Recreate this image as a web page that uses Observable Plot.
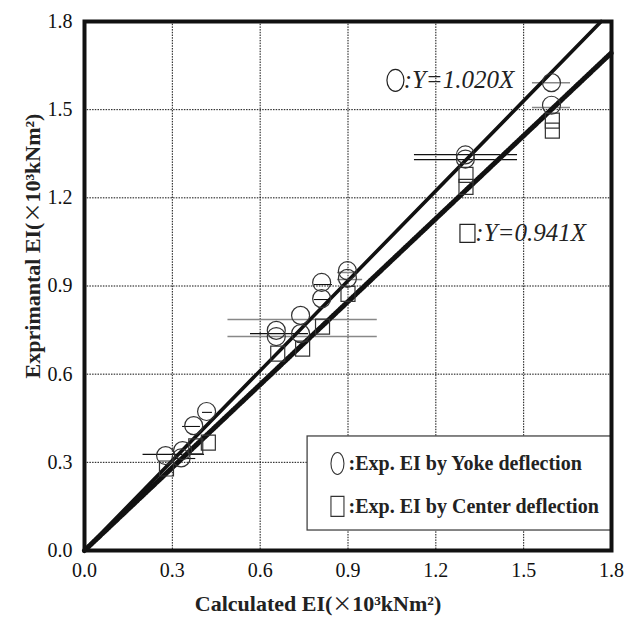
<!DOCTYPE html>
<html>
<head>
<meta charset="utf-8">
<script src="https://cdn.jsdelivr.net/npm/d3@7"></script>
<script src="https://cdn.jsdelivr.net/npm/@observablehq/plot@0.6"></script>
<style>
  html, body { margin: 0; padding: 0; background: #fff; }
</style>
</head>
<body>
<div id="chart"></div>
<script>
// ---- data ----
const xTicks = [0.0, 0.3, 0.6, 0.9, 1.2, 1.5, 1.8];
const yTicks = [0.0, 0.3, 0.6, 0.9, 1.2, 1.5, 1.8];
const gridValues = [0.3, 0.6, 0.9, 1.2, 1.5];

// Exp. EI by Yoke deflection (circles)
const yokeX = [0.277, 0.33, 0.335, 0.373, 0.417, 0.655, 0.655, 0.738, 0.738, 0.81, 0.81, 0.898, 0.898, 1.301, 1.301, 1.595, 1.595];
const yokeY = [0.323, 0.315, 0.34, 0.425, 0.473, 0.749, 0.728, 0.80, 0.738, 0.912, 0.857, 0.952, 0.926, 1.346, 1.332, 1.592, 1.515];

// Exp. EI by Center deflection (squares)
const centerX = [0.28, 0.38, 0.423, 0.66, 0.745, 0.813, 0.9, 1.303, 1.303, 1.598, 1.598];
const centerY = [0.279, 0.354, 0.367, 0.67, 0.687, 0.762, 0.873, 1.278, 1.237, 1.463, 1.429];

// horizontal error bars (gray ones and black ones)
const grayBarY  = [1.592, 1.507, 0.786, 0.728, 0.946, 0.922];
const grayBarX1 = [1.53, 1.53, 0.49, 0.49, 0.864, 0.864];
const grayBarX2 = [1.66, 1.66, 1.0, 1.0, 0.932, 0.95];
const blackBarY  = [1.347, 1.330, 0.738, 0.905, 0.854, 0.47, 0.422, 0.327, 0.313];
const blackBarX1 = [1.127, 1.127, 0.567, 0.785, 0.785, 0.403, 0.335, 0.20, 0.30];
const blackBarX2 = [1.479, 1.479, 0.765, 0.847, 0.84, 0.437, 0.396, 0.41, 0.38];

// regression slopes
const yokeSlope = 1.020;
const centerSlope = 0.941;
const annotationTexts = [":Y=1.020X", ":Y=0.941X"];
const legendTexts = [":Exp. EI by Yoke deflection", ":Exp. EI by Center deflection"];

// ---- derived tables ----
const yoke = yokeX.map((x, i) => ({x, y: yokeY[i]}));
const center = centerX.map((x, i) => ({x, y: centerY[i]}));
const grayBars = grayBarY.map((y, i) => ({y, x1: grayBarX1[i], x2: grayBarX2[i]}));
const blackBars = blackBarY.map((y, i) => ({y, x1: blackBarX1[i], x2: blackBarX2[i]}));
const fitLine = s => [{x: 0, y: 0}, {x: Math.min(1.8, 1.8 / s), y: Math.min(1.8, 1.8 / s) * s}];

const ellipseSym = (rx, ry) => ({
  draw(ctx) {
    const k = 0.5523;
    ctx.moveTo(rx, 0);
    ctx.bezierCurveTo(rx, ry * k, rx * k, ry, 0, ry);
    ctx.bezierCurveTo(-rx * k, ry, -rx, ry * k, -rx, 0);
    ctx.bezierCurveTo(-rx, -ry * k, -rx * k, -ry, 0, -ry);
    ctx.bezierCurveTo(rx * k, -ry, rx, -ry * k, rx, 0);
    ctx.closePath();
  }
});
const rectSym = (w, h) => ({ draw(ctx) { ctx.rect(-w / 2, -h / 2, w, h); } });

const serif = "'Liberation Serif', 'Times New Roman', serif";

// annotation / legend placement (data units)
const annot = [
  {sx: 1.062, tx: 1.09, y: 1.60, text: annotationTexts[0], sym: "e"},
  {sx: 1.308, tx: 1.335, y: 1.079, text: annotationTexts[1], sym: "r"}
];
const legendRows = [
  {sx: 0.864, tx: 0.902, y: 0.296, text: legendTexts[0]},
  {sx: 0.864, tx: 0.902, y: 0.150, text: legendTexts[1]}
];

const chart = Plot.plot({
  width: 630,
  height: 618,
  marginLeft: 84,
  marginRight: 19,
  marginTop: 21,
  marginBottom: 68,
  x: {domain: [0, 1.8]},
  y: {domain: [0, 1.8]},
  style: {fontFamily: serif, fontSize: "20px", background: "#fff", color: "#111"},
  marks: [
    Plot.gridX(gridValues, {stroke: "#000", strokeOpacity: 0.95, strokeWidth: 1, strokeDasharray: "1.5,1.2"}),
    Plot.gridY(gridValues, {stroke: "#000", strokeOpacity: 0.95, strokeWidth: 1, strokeDasharray: "1.5,1.2"}),
    Plot.ruleY(grayBars, {y: "y", x1: "x1", x2: "x2", stroke: "#888", strokeWidth: 1.5}),
    Plot.ruleY(blackBars, {y: "y", x1: "x1", x2: "x2", stroke: "#111", strokeWidth: 1.1}),
    Plot.line(fitLine(centerSlope), {x: "x", y: "y", stroke: "#c4c4c4", strokeWidth: 5}),
    Plot.line(fitLine(centerSlope), {x: "x", y: "y", stroke: "#111", strokeWidth: 5, strokeDasharray: "1.2,1.8"}),
    Plot.line(fitLine(yokeSlope), {x: "x", y: "y", stroke: "#111", strokeWidth: 3.6}),
    Plot.dot(yoke, {x: "x", y: "y", r: 9, stroke: "#333", strokeWidth: 1.2, fill: "none"}),
    Plot.dot(center, {x: "x", y: "y", symbol: rectSym(14, 15), stroke: "#333", strokeWidth: 1.2, fill: "none"}),
    // annotations
    Plot.dot(annot.filter(d => d.sym === "e"), {x: "sx", y: "y", symbol: ellipseSym(8.5, 11), stroke: "#222", strokeWidth: 1.2, fill: "none"}),
    Plot.dot(annot.filter(d => d.sym === "r"), {x: "sx", y: "y", symbol: rectSym(15, 18), stroke: "#222", strokeWidth: 1.2, fill: "none"}),
    Plot.text(annot, {x: "tx", y: "y", text: "text", textAnchor: "start", fontStyle: "italic", fontSize: 25, fill: "#222"}),
    // legend box
    Plot.rect([{x1: 0.762, x2: 1.8, y1: 0.068, y2: 0.388}], {x1: "x1", x2: "x2", y1: "y1", y2: "y2", fill: "#fff", stroke: "#444", strokeWidth: 1.3}),
    Plot.dot(legendRows.slice(0, 1), {x: "sx", y: "y", symbol: ellipseSym(6.5, 11), stroke: "#333", strokeWidth: 1.1, fill: "none"}),
    Plot.dot(legendRows.slice(1), {x: "sx", y: "y", symbol: rectSym(13, 20), stroke: "#333", strokeWidth: 1.1, fill: "none"}),
    Plot.text(legendRows, {x: "tx", y: "y", text: "text", textAnchor: "start", fontWeight: "bold", fontSize: 20, fill: "#222"}),
    // axes
    Plot.axisX({ticks: xTicks, tickSize: 0, tickPadding: 12, tickFormat: d3.format(".1f"), label: null, fontSize: 20}),
    Plot.axisY({ticks: yTicks, tickSize: 0, tickPadding: 12, tickFormat: d3.format(".1f"), label: null, fontSize: 20}),
    Plot.frame({stroke: "#111", strokeWidth: 4})
  ]
});

document.getElementById("chart").appendChild(chart);

// axis titles
const svg = d3.select(chart);
const xt = svg.append("text")
  .attr("x", 318).attr("y", 611)
  .attr("text-anchor", "middle")
  .attr("font-family", serif).attr("font-weight", "bold").attr("font-size", 22).attr("fill", "#222");
xt.append("tspan").text("Calculated EI(");
xt.append("tspan").attr("font-weight", "normal").attr("font-family", "'Noto Sans CJK JP', sans-serif").attr("font-size", 20).text("×");
xt.append("tspan").text("10³kNm²)");

const yt = svg.append("text")
  .attr("transform", "translate(40,246) rotate(-90)")
  .attr("text-anchor", "middle")
  .attr("font-family", serif).attr("font-weight", "bold").attr("font-size", 22).attr("fill", "#222");
yt.append("tspan").text("Exprimantal EI(");
yt.append("tspan").attr("font-weight", "normal").attr("font-family", "'Noto Sans CJK JP', sans-serif").attr("font-size", 20).text("×");
yt.append("tspan").text("10³kNm²)");
</script>
</body>
</html>
